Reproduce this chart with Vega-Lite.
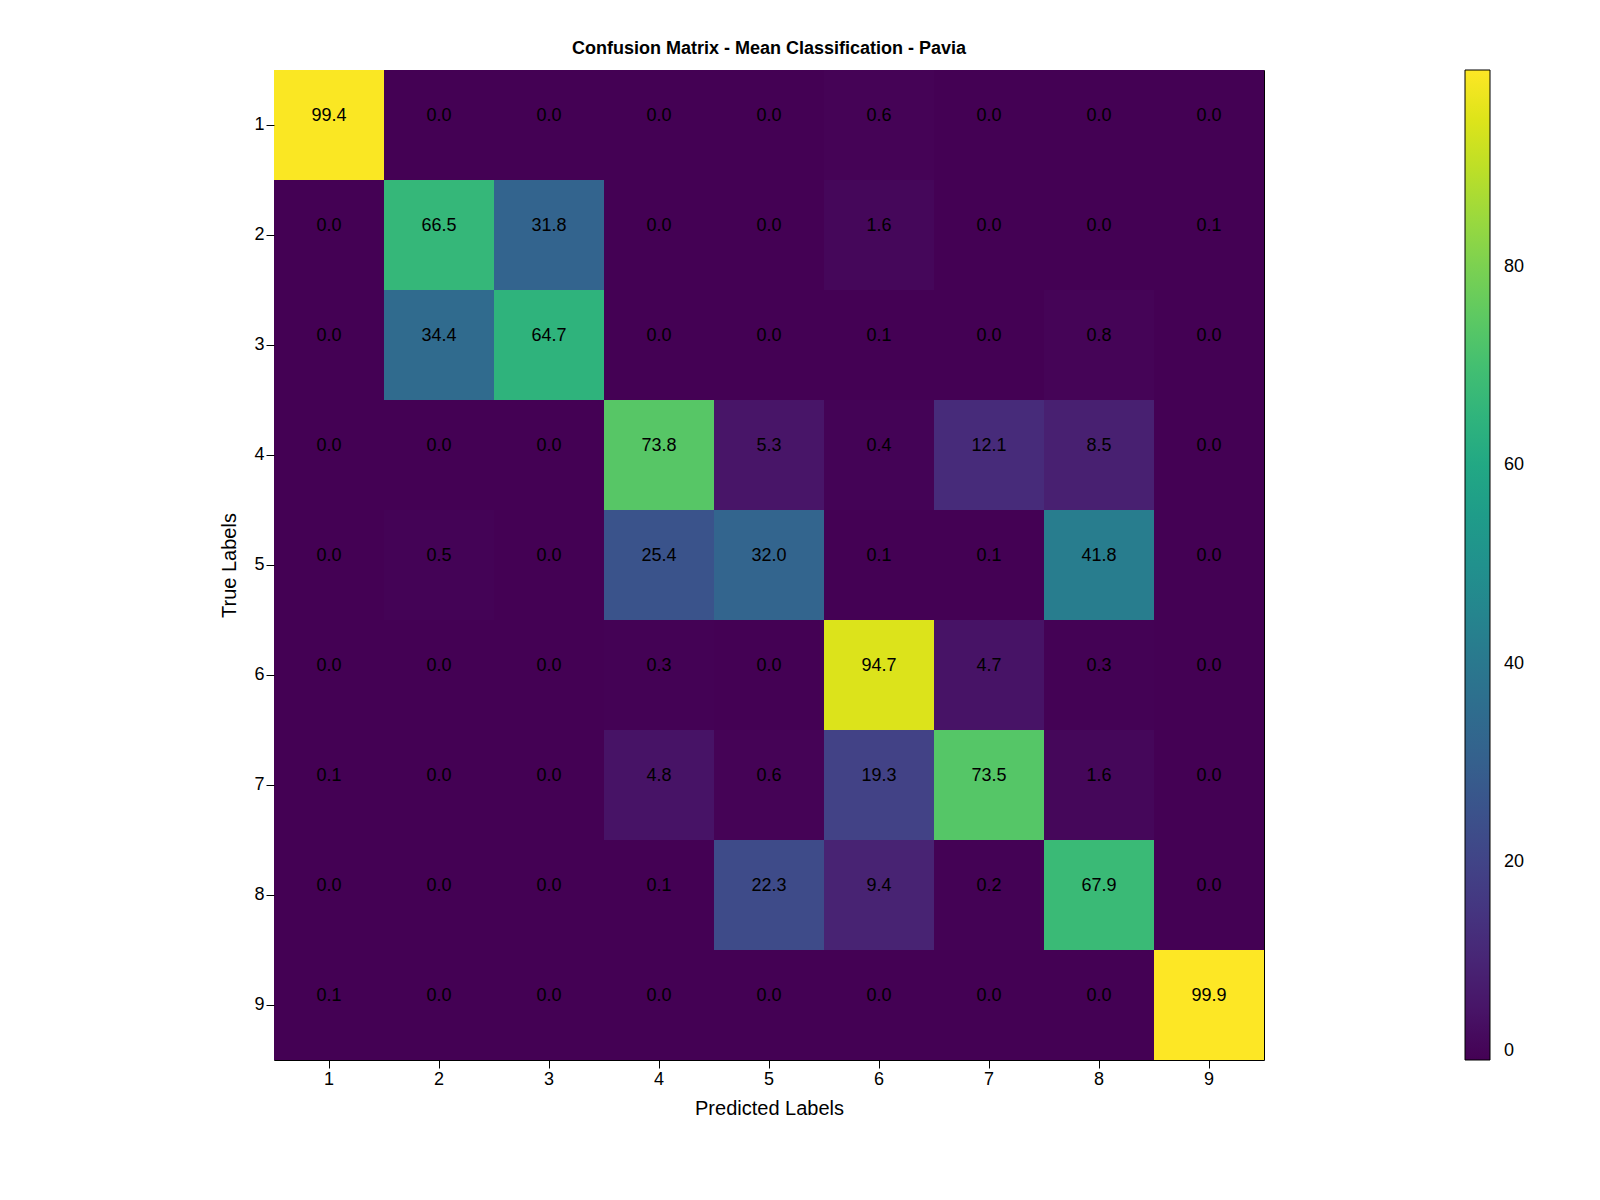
{
  "$schema": "https://vega.github.io/schema/vega-lite/v6.json",
  "autosize": "none",
  "width": 990,
  "height": 990,
  "padding": {"left": 274, "top": 70, "right": 336, "bottom": 140},
  "background": "white",
  "title": {"text": "Confusion Matrix - Mean Classification - Pavia", "fontSize": 18, "font": "Liberation Sans", "fontWeight": "bold", "offset": 12, "color": "black"},
  "config": {
    "view": {"stroke": "black", "strokeWidth": 1},
    "font": "Liberation Sans",
    "axis": {"labelFontSize": 18, "titleFontSize": 20, "titleFontWeight": "normal", "labelColor": "black", "titleColor": "black", "tickColor": "black", "domain": false, "grid": false, "labelAngle": 0, "tickSize": 8}
  },
  "data": {"values": [
    {"t":1,"p":1,"v":99.4},{"t":1,"p":2,"v":0},{"t":1,"p":3,"v":0},{"t":1,"p":4,"v":0},{"t":1,"p":5,"v":0},{"t":1,"p":6,"v":0.6},{"t":1,"p":7,"v":0},{"t":1,"p":8,"v":0},{"t":1,"p":9,"v":0},
    {"t":2,"p":1,"v":0},{"t":2,"p":2,"v":66.5},{"t":2,"p":3,"v":31.8},{"t":2,"p":4,"v":0},{"t":2,"p":5,"v":0},{"t":2,"p":6,"v":1.6},{"t":2,"p":7,"v":0},{"t":2,"p":8,"v":0},{"t":2,"p":9,"v":0.1},
    {"t":3,"p":1,"v":0},{"t":3,"p":2,"v":34.4},{"t":3,"p":3,"v":64.7},{"t":3,"p":4,"v":0},{"t":3,"p":5,"v":0},{"t":3,"p":6,"v":0.1},{"t":3,"p":7,"v":0},{"t":3,"p":8,"v":0.8},{"t":3,"p":9,"v":0},
    {"t":4,"p":1,"v":0},{"t":4,"p":2,"v":0},{"t":4,"p":3,"v":0},{"t":4,"p":4,"v":73.8},{"t":4,"p":5,"v":5.3},{"t":4,"p":6,"v":0.4},{"t":4,"p":7,"v":12.1},{"t":4,"p":8,"v":8.5},{"t":4,"p":9,"v":0},
    {"t":5,"p":1,"v":0},{"t":5,"p":2,"v":0.5},{"t":5,"p":3,"v":0},{"t":5,"p":4,"v":25.4},{"t":5,"p":5,"v":32.0},{"t":5,"p":6,"v":0.1},{"t":5,"p":7,"v":0.1},{"t":5,"p":8,"v":41.8},{"t":5,"p":9,"v":0},
    {"t":6,"p":1,"v":0},{"t":6,"p":2,"v":0},{"t":6,"p":3,"v":0},{"t":6,"p":4,"v":0.3},{"t":6,"p":5,"v":0},{"t":6,"p":6,"v":94.7},{"t":6,"p":7,"v":4.7},{"t":6,"p":8,"v":0.3},{"t":6,"p":9,"v":0},
    {"t":7,"p":1,"v":0.1},{"t":7,"p":2,"v":0},{"t":7,"p":3,"v":0},{"t":7,"p":4,"v":4.8},{"t":7,"p":5,"v":0.6},{"t":7,"p":6,"v":19.3},{"t":7,"p":7,"v":73.5},{"t":7,"p":8,"v":1.6},{"t":7,"p":9,"v":0},
    {"t":8,"p":1,"v":0},{"t":8,"p":2,"v":0},{"t":8,"p":3,"v":0},{"t":8,"p":4,"v":0.1},{"t":8,"p":5,"v":22.3},{"t":8,"p":6,"v":9.4},{"t":8,"p":7,"v":0.2},{"t":8,"p":8,"v":67.9},{"t":8,"p":9,"v":0},
    {"t":9,"p":1,"v":0.1},{"t":9,"p":2,"v":0},{"t":9,"p":3,"v":0},{"t":9,"p":4,"v":0},{"t":9,"p":5,"v":0},{"t":9,"p":6,"v":0},{"t":9,"p":7,"v":0},{"t":9,"p":8,"v":0},{"t":9,"p":9,"v":99.9}
  ]},
  "encoding": {
    "x": {"field": "p", "type": "ordinal", "title": "Predicted Labels", "scale": {"paddingInner": 0, "paddingOuter": 0}, "axis": {"titlePadding": 10}},
    "y": {"field": "t", "type": "ordinal", "title": "True Labels", "scale": {"paddingInner": 0, "paddingOuter": 0}, "axis": {"titlePadding": 14}}
  },
  "layer": [
    {
      "mark": {"type": "rect"},
      "encoding": {
        "color": {"field": "v", "type": "quantitative", "title": null,
          "scale": {"scheme": "viridis", "domain": [0, 99.9], "nice": false, "zero": true},
          "legend": {"orient": "none", "legendX": 1191, "legendY": 0, "gradientLength": 990, "gradientThickness": 25, "gradientStrokeColor": "black", "gradientStrokeWidth": 1, "values": [0, 20, 40, 60, 80], "labelFontSize": 18, "labelColor": "black", "labelOffset": 14}}
      }
    },
    {
      "mark": {"type": "text", "fontSize": 18, "color": "black", "baseline": "bottom", "dy": 0},
      "encoding": {"text": {"field": "v", "type": "quantitative", "format": ".1f"}}
    }
  ]
}
